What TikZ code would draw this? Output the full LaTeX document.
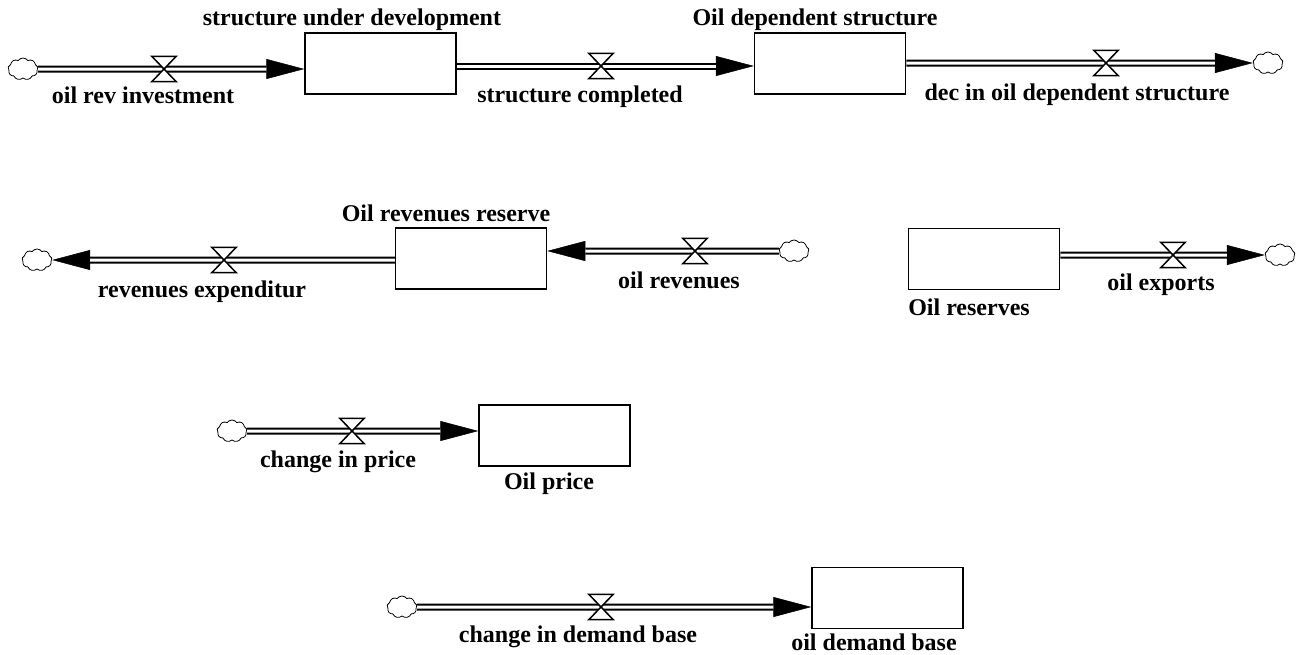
\documentclass[tikz,border=0pt]{standalone}
\usepackage{fontspec}
\setmainfont{Liberation Serif}
\usetikzlibrary{arrows.meta,shapes.symbols}
\tikzset{
  stock/.style={draw, line width=1.5pt, fill=white, minimum width=151pt, minimum height=61pt, inner sep=0pt},
  lbl/.style={font=\fontsize{24}{28}\selectfont\bfseries, anchor=base, inner sep=0pt},
  cloudnode/.style={cloud, cloud puffs=9, cloud puff arc=110, aspect=1.4, draw, line width=0.8pt, minimum width=30pt, minimum height=22pt, inner sep=0pt},
  vnode/.style={minimum width=24pt, minimum height=25pt, inner sep=0pt, draw=none},
  vshape/.style={draw, line width=1.5pt, fill=white, line join=miter},
  tipline/.style={line width=0.5pt, -{Triangle[length=38pt,width=20pt]}},
  pipe/.style={draw, line width=2pt, double=white, double distance=3pt, shorten >=38pt},
  pipeplain/.style={draw, line width=2pt, double=white, double distance=3pt}
}
\newcommand\valveshape[1]{\draw[vshape] (#1.north west) -- (#1.north east) -- (#1.south west) -- (#1.south east) -- cycle;}
\begin{document}
\begin{tikzpicture}[x=1pt,y=-1pt]
\useasboundingbox (0,0) rectangle (1299,654);

% stocks
\node[stock] (s1) at (380.5,63.5) {};
\node[stock] (s2) at (830,63.5) {};
\node[stock] (s3) at (471,258.5) {};
\node[stock] (s4) at (984,259) {};
\node[stock] (s5) at (554.5,435.5) {};
\node[stock] (s6) at (887.5,598) {};

% clouds
\node[cloudnode] (c1) at (23,69) {};
\node[cloudnode] (c3) at (1268,63) {};
\node[cloudnode] (c4) at (37,260) {};
\node[cloudnode] (c5) at (794,251) {};
\node[cloudnode] (c6) at (1280,255) {};
\node[cloudnode] (c7) at (232,431) {};
\node[cloudnode] (c8) at (402,607) {};

% valves (positions)
\node[vnode] (v1) at (164,69) {};
\node[vnode] (v2) at (601,66) {};
\node[vnode] (v3) at (1106,63) {};
\node[vnode] (v4) at (224,260) {};
\node[vnode] (v5) at (695,251) {};
\node[vnode] (v6) at (1173,255) {};
\node[vnode] (v7) at (352,431) {};
\node[vnode] (v8) at (601,607) {};

% flow 1: cloud -> s1
\draw[tipline] (c1) -- (s1.west |- v1);
\draw[pipe] (c1) -- (s1.west |- v1);
% flow 2: s1 -> s2
\draw[tipline] (s1.east |- v2) -- (s2.west |- v2);
\draw[pipe] (s1.east |- v2) -- (s2.west |- v2);
% flow 3: s2 -> cloud
\draw[tipline] (s2.east |- v3) -- (c3);
\draw[pipe] (s2.east |- v3) -- (c3);
% flow 4: s3 -> cloud (left)
\draw[tipline] (s3.west |- v4) -- (c4);
\draw[pipe] (s3.west |- v4) -- (c4);
% flow 5: cloud -> s3
\draw[tipline] (c5) -- (s3.east |- v5);
\draw[pipe] (c5) -- (s3.east |- v5);
% flow 6: s4 -> cloud
\draw[tipline] (s4.east |- v6) -- (c6);
\draw[pipe] (s4.east |- v6) -- (c6);
% flow 7: cloud -> s5
\draw[tipline] (c7) -- (s5.west |- v7);
\draw[pipe] (c7) -- (s5.west |- v7);
% flow 8: cloud -> s6
\draw[tipline] (c8) -- (s6.west |- v8);
\draw[pipe] (c8) -- (s6.west |- v8);

% valve shapes
\valveshape{v1}
\valveshape{v2}
\valveshape{v3}
\valveshape{v4}
\valveshape{v5}
\valveshape{v6}
\valveshape{v7}
\valveshape{v8}

% labels
\node[lbl] (l1) at (352,25) {structure under development};
\node[lbl] (l2) at (815,25) {Oil dependent structure};
\node[lbl] (l3) at (143,103) {oil rev investment};
\node[lbl] (l4) at (580,102) {structure completed};
\node[lbl] (l5) at (1077,100) {dec in oil dependent structure};
\node[lbl] (l6) at (446,221) {Oil revenues reserve};
\node[lbl] (l7) at (202,297) {revenues expenditur};
\node[lbl] (l8) at (679,288) {oil revenues};
\node[lbl] (l9) at (1161,290) {oil exports};
\node[lbl] (l10) at (969,315) {Oil reserves};
\node[lbl] (l11) at (338,467) {change in price};
\node[lbl] (l12) at (549,489) {Oil price};
\node[lbl] (l13) at (578,642) {change in demand base};
\node[lbl] (l14) at (874,650) {oil demand base};
\end{tikzpicture}
\end{document}
